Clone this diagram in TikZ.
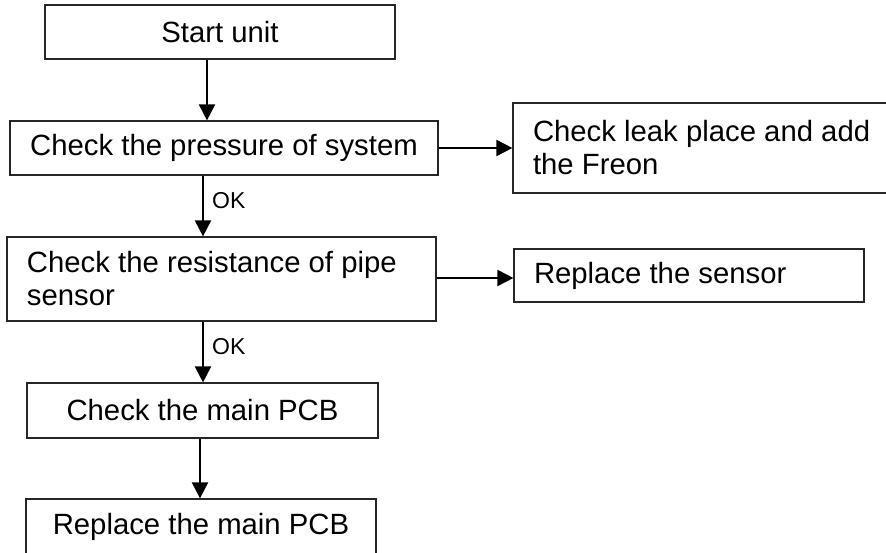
\documentclass[tikz,border=0pt]{standalone}
\usepackage{fontspec}
\setmainfont{Liberation Sans}
\usetikzlibrary{arrows.meta}
\begin{document}
\begin{tikzpicture}[x=1pt,y=1pt,
  box/.style={draw=black!85, line width=1.2pt, rectangle, inner sep=0pt,
    font=\fontsize{29.3}{33}\selectfont},
  lbox/.style={box, align=flush left},
  arr/.style={draw=black, line width=2pt, -{Triangle[length=16pt,width=16pt]}},
  oklab/.style={anchor=west, inner sep=0pt, font=\fontsize{23}{26}\selectfont}]
\useasboundingbox (0,0) rectangle (886,-553);
\clip (0,0) rectangle (886,-553);
\node[box, minimum width=350, minimum height=54] (start) at (220,-32) {Start unit};
\node[box, minimum width=428, minimum height=54] (pres) at (224,-148) {Check the pressure of system};
\node[lbox, minimum width=379, minimum height=90, text width=339] (freon) at (702.5,-148) {Check leak place and add\\the Freon};
\node[lbox, minimum width=429, minimum height=84, text width=389] (res) at (221.5,-279) {Check the resistance of pipe\\sensor};
\node[lbox, minimum width=350, minimum height=53, text width=310] (sensor) at (689,-275.5) {Replace the sensor};
\node[box, minimum width=351, minimum height=55] (main) at (202.5,-410.5) {Check the main PCB};
\node[box, minimum width=350, minimum height=56] (repl) at (201,-527) {Replace the main PCB};
\draw[arr] (207,0 |- start.south) -- (207,0 |- pres.north);
\draw[arr] (pres.east) -- (freon.west);
\draw[arr] (203,0 |- pres.south) -- (203,0 |- res.north);
\draw[arr] (res.east |- 0,-278) -- (sensor.west |- 0,-278);
\draw[arr] (203,0 |- res.south) -- (203,0 |- main.north);
\draw[arr] (200,0 |- main.south) -- (200,0 |- repl.north);
\node[oklab] (ok1) at (212,-201) {OK};
\node[oklab] (ok2) at (212,-347) {OK};
\end{tikzpicture}
\end{document}
